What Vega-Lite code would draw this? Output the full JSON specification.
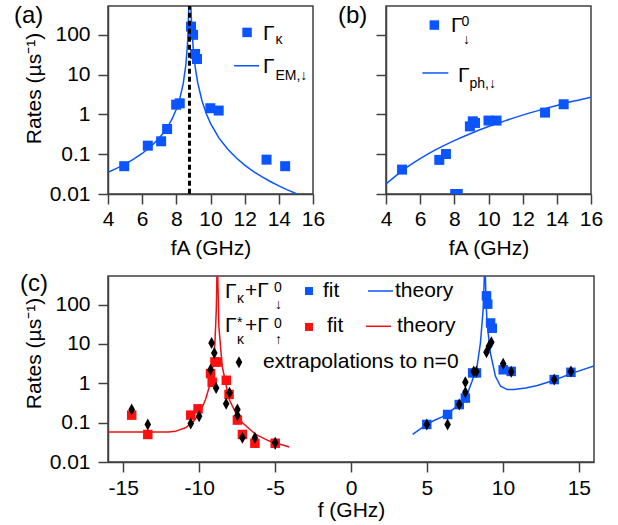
{
  "$schema": "https://vega.github.io/schema/vega-lite/v6.json",
  "padding": {"left": 13, "top": 3, "right": 5, "bottom": 2},
  "config": {
    "font": "Liberation Sans",
    "view": {"stroke": "#404040", "strokeWidth": 1.5},
    "axis": {"labelFont": "Liberation Sans", "titleFont": "Liberation Sans", "labelFontSize": 21, "titleFontSize": 21, "labelColor": "#000", "titleColor": "#000", "titleFontWeight": "normal", "tickColor": "#404040", "domainColor": "#404040", "domainWidth": 1.5, "tickWidth": 1.5, "tickSize": 10, "grid": false, "labelPadding": 4, "titlePadding": 8, "labelFlush": false, "labelOverlap": false},
    "axisY": {"labelPadding": 8, "titlePadding": 5},
    "title": {"font": "Liberation Sans", "fontSize": 24, "fontWeight": "normal", "color": "#000"},
    "text": {"font": "Liberation Sans", "color": "#000"}
  },
  "datasets": {
    "emA": [{"f":4.0,"r":0.0352},{"f":4.5,"r":0.0439},{"f":5.0,"r":0.0563},{"f":5.5,"r":0.0748},{"f":6.0,"r":0.1043},{"f":6.5,"r":0.1553},{"f":7.0,"r":0.2553},{"f":7.25,"r":0.346},{"f":7.5,"r":0.496},{"f":7.75,"r":0.769},{"f":8.0,"r":1.349},{"f":8.2,"r":2.46},{"f":8.4,"r":5.84},{"f":8.55,"r":16.5},{"f":8.65,"r":55.6},{"f":8.7,"r":163},{"f":8.74,"r":889},{"f":8.77,"r":10000},{"f":8.8,"r":6415},{"f":8.85,"r":552},{"f":8.9,"r":164},{"f":9.0,"r":39.4},{"f":9.1,"r":16.0},{"f":9.25,"r":6.27},{"f":9.5,"r":2.2},{"f":9.75,"r":1.052},{"f":10.0,"r":0.596},{"f":10.5,"r":0.254},{"f":11.0,"r":0.1347},{"f":11.5,"r":0.0812},{"f":12.0,"r":0.0533},{"f":12.5,"r":0.0372},{"f":13.0,"r":0.0272},{"f":13.5,"r":0.0206},{"f":14.0,"r":0.016},{"f":14.5,"r":0.0127},{"f":15.0,"r":0.0103},{"f":15.5,"r":0.0085},{"f":16.0,"r":0.0071}],
    "gk": [{"f":4.95,"r":0.05},{"f":6.33,"r":0.164},{"f":7.11,"r":0.211},{"f":7.46,"r":0.43},{"f":7.99,"r":1.76},{"f":8.2,"r":1.9},{"f":8.86,"r":161},{"f":8.98,"r":100},{"f":9.1,"r":33},{"f":9.21,"r":24.7},{"f":9.99,"r":1.43},{"f":10.48,"r":1.25},{"f":13.28,"r":0.073},{"f":14.37,"r":0.05}],
    "legA": [{"f":13.07,"r":105,"t":"Γ","s":"big"},{"f":13.8,"r":72,"t":"κ","s":"small"},{"f":13.07,"r":15.1,"t":"Γ","s":"big"},{"f":13.8,"r":9.0,"t":"EM,↓","s":"small"}],
    "phB": [{"f":4,"r":0.0178},{"f":5,"r":0.040},{"f":6,"r":0.0774},{"f":7,"r":0.1355},{"f":8,"r":0.220},{"f":9,"r":0.337},{"f":10,"r":0.495},{"f":11,"r":0.698},{"f":12,"r":0.96},{"f":13,"r":1.28},{"f":14,"r":1.68},{"f":15,"r":2.16},{"f":16,"r":2.72}],
    "g0": [{"f":4.94,"r":0.041},{"f":7.12,"r":0.072},{"f":7.51,"r":0.101},{"f":8.05,"r":0.01},{"f":8.2,"r":0.01},{"f":8.91,"r":0.5},{"f":9.08,"r":0.67},{"f":9.21,"r":0.61},{"f":10.0,"r":0.70},{"f":10.47,"r":0.70},{"f":13.31,"r":1.11},{"f":14.4,"r":1.8}],
    "legB": [{"f":7.805,"r":162,"t":"Γ","s":"big"},{"f":8.42,"r":216,"t":"0","s":"small"},{"f":8.51,"r":72,"t":"↓","s":"small"},{"f":8.215,"r":9.4,"t":"Γ","s":"big"},{"f":8.89,"r":5.7,"t":"ph,↓","s":"small"}],
    "thBlue": [{"f":4.06,"r":0.050},{"f":4.5,"r":0.066},{"f":4.99,"r":0.090},{"f":5.5,"r":0.115},{"f":6.0,"r":0.14},{"f":6.36,"r":0.171},{"f":7.09,"r":0.277},{"f":7.64,"r":0.517},{"f":7.97,"r":1.12},{"f":8.30,"r":2.69},{"f":8.52,"r":10.5},{"f":8.70,"r":73},{"f":8.78,"r":510},{"f":8.8,"r":10000},{"f":8.85,"r":510},{"f":8.9,"r":100},{"f":8.96,"r":33.7},{"f":9.18,"r":5.86},{"f":9.51,"r":1.50},{"f":9.85,"r":0.84},{"f":10.29,"r":0.69},{"f":10.73,"r":0.69},{"f":11.5,"r":0.76},{"f":12.27,"r":0.873},{"f":13.38,"r":1.19},{"f":14.48,"r":1.76},{"f":16.0,"r":2.75}],
    "thRed": [{"f":-16,"r":0.0575},{"f":-14,"r":0.0575},{"f":-13,"r":0.0575},{"f":-12,"r":0.058},{"f":-11.57,"r":0.06},{"f":-10.9,"r":0.074},{"f":-10.35,"r":0.109},{"f":-9.91,"r":0.195},{"f":-9.58,"r":0.386},{"f":-9.32,"r":0.84},{"f":-9.09,"r":2.69},{"f":-8.96,"r":10.5},{"f":-8.87,"r":73},{"f":-8.83,"r":510},{"f":-8.8,"r":10000},{"f":-8.77,"r":510},{"f":-8.70,"r":27.7},{"f":-8.48,"r":2.7},{"f":-8.03,"r":0.39},{"f":-7.59,"r":0.178},{"f":-7.15,"r":0.099},{"f":-6.27,"r":0.05},{"f":-5.38,"r":0.034},{"f":-4.06,"r":0.024}],
    "sqBlue": [{"f":4.99,"r":0.09},{"f":6.36,"r":0.161},{"f":7.13,"r":0.288},{"f":7.53,"r":0.42},{"f":8.01,"r":1.83},{"f":8.26,"r":1.83},{"f":8.92,"r":166},{"f":9.0,"r":102},{"f":9.19,"r":34},{"f":9.3,"r":25},{"f":10.02,"r":2.2},{"f":10.55,"r":2.0},{"f":13.38,"r":1.24},{"f":14.48,"r":1.9}],
    "sqRed": [{"f":-14.44,"r":0.155},{"f":-13.38,"r":0.05},{"f":-10.55,"r":0.155},{"f":-10.07,"r":0.224},{"f":-9.25,"r":1.76},{"f":-9.14,"r":1.06},{"f":-8.96,"r":3.47},{"f":-8.8,"r":3.47},{"f":-8.21,"r":1.19},{"f":-8.03,"r":0.52},{"f":-7.48,"r":0.116},{"f":-7.15,"r":0.05},{"f":-6.33,"r":0.03},{"f":-4.99,"r":0.03}],
    "dia": [{"f":-14.44,"r":0.215,"lo":0.19,"hi":0.24},{"f":-13.38,"r":0.09,"lo":0.072,"hi":0.11},{"f":-10.55,"r":0.095,"lo":0.083,"hi":0.108},{"f":-10.0,"r":0.146},{"f":-9.25,"r":2.2},{"f":-9.18,"r":10.5},{"f":-9.0,"r":5.9},{"f":-8.88,"r":0.76},{"f":-8.22,"r":0.30},{"f":-8.0,"r":0.57},{"f":-7.48,"r":0.215},{"f":-7.48,"r":0.155},{"f":-7.15,"r":0.041,"lo":0.035,"hi":0.048},{"f":-6.33,"r":0.041,"lo":0.036,"hi":0.046},{"f":-4.99,"r":0.031,"lo":0.021,"hi":0.038},{"f":4.99,"r":0.09},{"f":6.36,"r":0.09,"lo":0.075,"hi":0.105},{"f":7.13,"r":0.288},{"f":7.53,"r":0.59},{"f":7.53,"r":1.06,"lo":0.85,"hi":1.3},{"f":8.08,"r":2.0},{"f":8.26,"r":2.0},{"f":8.92,"r":6.1},{"f":9.08,"r":8.7},{"f":9.24,"r":11},{"f":10.02,"r":3.15},{"f":10.55,"r":1.95},{"f":13.38,"r":1.24},{"f":14.48,"r":2.0}],
    "legC": [{"f":-8.30,"r":214,"t":"Γ","s":"big"},{"f":-7.506,"r":140,"t":"κ","s":"small"},{"f":-6.979,"r":220,"t":"+Γ","s":"big"},{"f":-5.07,"r":263,"t":"0","s":"small"},{"f":-5.004,"r":96,"t":"↓","s":"small"},{"f":-1.844,"r":220,"t":"fit","s":"big"},{"f":2.897,"r":220,"t":"theory","s":"big"},
             {"f":-8.30,"r":29.3,"t":"Γ","s":"big"},{"f":-7.506,"r":33,"t":"*","s":"small"},{"f":-7.506,"r":12.8,"t":"κ","s":"small"},{"f":-6.979,"r":29.3,"t":"+Γ","s":"big"},{"f":-5.07,"r":32,"t":"0","s":"small"},{"f":-5.004,"r":12.3,"t":"↑","s":"small"},{"f":-1.58,"r":28,"t":"fit","s":"big"},{"f":3.03,"r":28,"t":"theory","s":"big"},
             {"f":-5.794,"r":3.4,"t":"extrapolations to n=0","s":"big"}]
  },
  "spacing": 12,
  "vconcat": [
    {
      "spacing": 11,
      "hconcat": [
        {
          "width": 205, "height": 188,
          "title": {"text": "(a)", "anchor": "start", "frame": "group", "dx": -94, "offset": -22},
          "encoding": {
            "x": {"field": "f", "type": "quantitative", "scale": {"domain": [4, 16], "nice": false, "zero": false}, "axis": {"values": [4, 6, 8, 10, 12, 14, 16], "title": "fA (GHz)"}},
            "y": {"field": "r", "type": "quantitative", "scale": {"type": "log", "domain": [0.01, 530], "nice": false}, "axis": {"values": [0.01, 0.1, 1, 10, 100], "format": "~g", "title": "Rates (µs⁻¹)", "titleY": 82}}
          },
          "layer": [
            {"data": {"name": "emA"}, "mark": {"type": "line", "color": "#0a55ff", "strokeWidth": 1.5, "clip": true}},
            {"data": {"name": "gk"}, "mark": {"type": "point", "shape": "square", "filled": true, "size": 100, "color": "#0a55ff", "opacity": 1}},
            {"data": {"values": [{"f": 8.77, "r": 0.001, "r2": 100000}]}, "mark": {"type": "rule", "color": "#000", "strokeWidth": 3, "strokeDash": [5, 3], "clip": true}, "encoding": {"y2": {"field": "r2"}}},
            {"data": {"values": [{"f": 12.14, "r": 115}]}, "mark": {"type": "point", "shape": "square", "filled": true, "size": 90, "color": "#0a55ff", "opacity": 1}},
            {"data": {"values": [{"f": 11.38, "f2": 12.84, "r": 16.7}]}, "mark": {"type": "rule", "color": "#0a55ff", "strokeWidth": 1.5}, "encoding": {"x2": {"field": "f2"}}},
            {"data": {"name": "legA"}, "transform": [{"filter": "datum.s == 'big'"}], "mark": {"type": "text", "align": "left", "baseline": "middle", "fontSize": 21}, "encoding": {"text": {"field": "t"}}},
            {"data": {"name": "legA"}, "transform": [{"filter": "datum.s == 'small'"}], "mark": {"type": "text", "align": "left", "baseline": "middle", "fontSize": 14}, "encoding": {"text": {"field": "t"}}}
          ]
        },
        {
          "width": 205, "height": 188,
          "title": {"text": "(b)", "anchor": "start", "frame": "group", "dx": -48, "offset": -22},
          "encoding": {
            "x": {"field": "f", "type": "quantitative", "scale": {"domain": [4, 16], "nice": false, "zero": false}, "axis": {"values": [4, 6, 8, 10, 12, 14, 16], "title": "fA (GHz)"}},
            "y": {"field": "r", "type": "quantitative", "scale": {"type": "log", "domain": [0.01, 530], "nice": false}, "axis": {"values": [0.01, 0.1, 1, 10, 100], "labels": false, "title": null}}
          },
          "layer": [
            {"data": {"name": "phB"}, "mark": {"type": "line", "color": "#0a55ff", "strokeWidth": 1.5, "clip": true, "interpolate": "monotone"}},
            {"data": {"name": "g0"}, "mark": {"type": "point", "shape": "square", "filled": true, "size": 100, "color": "#0a55ff", "opacity": 1, "clip": true}},
            {"data": {"values": [{"f": 6.83, "r": 176}]}, "mark": {"type": "point", "shape": "square", "filled": true, "size": 90, "color": "#0a55ff", "opacity": 1}},
            {"data": {"values": [{"f": 6.13, "f2": 7.65, "r": 11.0}]}, "mark": {"type": "rule", "color": "#0a55ff", "strokeWidth": 1.5}, "encoding": {"x2": {"field": "f2"}}},
            {"data": {"name": "legB"}, "transform": [{"filter": "datum.s == 'big'"}], "mark": {"type": "text", "align": "left", "baseline": "middle", "fontSize": 21}, "encoding": {"text": {"field": "t"}}},
            {"data": {"name": "legB"}, "transform": [{"filter": "datum.s == 'small'"}], "mark": {"type": "text", "align": "left", "baseline": "middle", "fontSize": 14}, "encoding": {"text": {"field": "t"}}}
          ]
        }
      ]
    },
    {
      "width": 486, "height": 186,
      "title": {"text": "(c)", "anchor": "start", "frame": "group", "dx": -88, "offset": -20},
      "encoding": {
        "x": {"field": "f", "type": "quantitative", "scale": {"domain": [-16, 16], "nice": false, "zero": false}, "axis": {"values": [-15, -10, -5, 0, 5, 10, 15], "labelExpr": "replace(datum.label, '−', '-')", "title": "f (GHz)", "labelPadding": 5, "titlePadding": 1}},
        "y": {"field": "r", "type": "quantitative", "scale": {"type": "log", "domain": [0.01, 530], "nice": false}, "axis": {"values": [0.01, 0.1, 1, 10, 100], "format": "~g", "title": "Rates (µs⁻¹)", "titleY": 77}}
      },
      "layer": [
        {"data": {"name": "thRed"}, "mark": {"type": "line", "color": "#ee1111", "strokeWidth": 1.5, "clip": true}},
        {"data": {"name": "thBlue"}, "mark": {"type": "line", "color": "#0a55ff", "strokeWidth": 1.5, "clip": true}},
        {"data": {"name": "sqRed"}, "mark": {"type": "point", "shape": "square", "filled": true, "size": 90, "color": "#ff1010", "opacity": 1}},
        {"data": {"name": "sqBlue"}, "mark": {"type": "point", "shape": "square", "filled": true, "size": 90, "color": "#0a55ff", "opacity": 1}},
        {"data": {"name": "dia"}, "transform": [{"filter": "isValid(datum.lo)"}], "mark": {"type": "rule", "color": "#000", "strokeWidth": 1.5}, "encoding": {"y": {"field": "lo", "type": "quantitative"}, "y2": {"field": "hi"}}},
        {"data": {"name": "dia"}, "mark": {"type": "point", "shape": "M0,-1L0.55,0L0,1L-0.55,0Z", "filled": true, "size": 144, "color": "#000", "opacity": 1}},
        {"data": {"values": [{"f": -2.765, "r": 220}]}, "mark": {"type": "point", "shape": "square", "filled": true, "size": 64, "color": "#0a55ff", "opacity": 1}},
        {"data": {"values": [{"f": -2.765, "r": 26.9}]}, "mark": {"type": "point", "shape": "square", "filled": true, "size": 64, "color": "#ff1010", "opacity": 1}},
        {"data": {"values": [{"f": -7.375, "r": 3.4}]}, "mark": {"type": "point", "shape": "M0,-1L0.55,0L0,1L-0.55,0Z", "filled": true, "size": 144, "color": "#000", "opacity": 1}},
        {"data": {"values": [{"f": 1.119, "f2": 2.765, "r": 220}]}, "mark": {"type": "rule", "color": "#0a55ff", "strokeWidth": 1.5}, "encoding": {"x2": {"field": "f2"}}},
        {"data": {"values": [{"f": 0.987, "f2": 2.633, "r": 28}]}, "mark": {"type": "rule", "color": "#ee1111", "strokeWidth": 1.5}, "encoding": {"x2": {"field": "f2"}}},
        {"data": {"name": "legC"}, "transform": [{"filter": "datum.s == 'big'"}], "mark": {"type": "text", "align": "left", "baseline": "middle", "fontSize": 21}, "encoding": {"text": {"field": "t"}}},
        {"data": {"name": "legC"}, "transform": [{"filter": "datum.s == 'small'"}], "mark": {"type": "text", "align": "left", "baseline": "middle", "fontSize": 14}, "encoding": {"text": {"field": "t"}}}
      ]
    }
  ]
}
